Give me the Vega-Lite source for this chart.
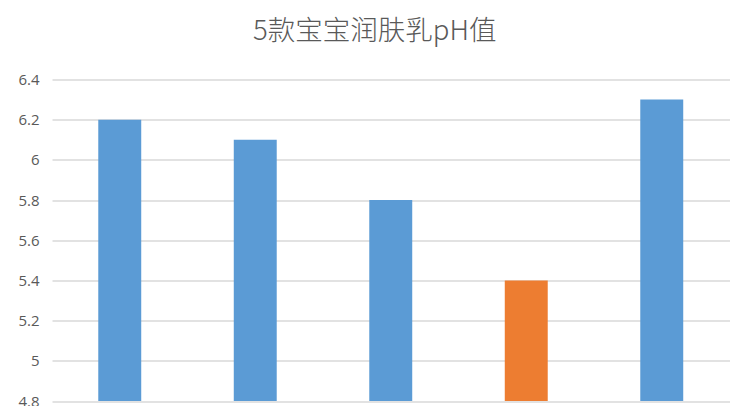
{
  "$schema": "https://vega.github.io/schema/vega-lite/v6.json",
  "autosize": {"type": "none"},
  "width": 677.5,
  "height": 321.5,
  "padding": {"left": 52, "top": 79.5, "right": 22.5, "bottom": 5},
  "background": "white",
  "title": {
    "text": "5款宝宝润肤乳pH值",
    "font": "Noto Sans CJK SC",
    "fontSize": 27.5,
    "fontWeight": 300,
    "color": "#595959",
    "anchor": "middle",
    "frame": "group",
    "dx": -16,
    "offset": 27
  },
  "data": {
    "values": [
      {"product": "产品1", "ph": 6.2, "type": "other"},
      {"product": "产品2", "ph": 6.1, "type": "other"},
      {"product": "产品3", "ph": 5.8, "type": "other"},
      {"product": "产品4", "ph": 5.4, "type": "highlight"},
      {"product": "产品5", "ph": 6.3, "type": "other"}
    ]
  },
  "mark": {"type": "bar", "clip": true},
  "encoding": {
    "x": {
      "field": "product",
      "type": "nominal",
      "sort": null,
      "axis": null,
      "scale": {"paddingInner": 0.683, "paddingOuter": 0.3415}
    },
    "y": {
      "field": "ph",
      "type": "quantitative",
      "scale": {"domain": [4.8, 6.4], "zero": false, "nice": false},
      "axis": {
        "title": null,
        "values": [4.8, 5, 5.2, 5.4, 5.6, 5.8, 6, 6.2, 6.4],
        "labelExpr": "datum.value == 6 ? '6' : datum.value == 5 ? '5' : format(datum.value, '.1f')",
        "domain": false,
        "ticks": false,
        "labelPadding": 13,
        "labelFont": "Open Sans",
        "labelFontSize": 15,
        "labelColor": "#595959",
        "gridColor": "#d9d9d9",
        "gridWidth": 1.5
      }
    },
    "color": {
      "field": "type",
      "type": "nominal",
      "scale": {"domain": ["other", "highlight"], "range": ["#5B9BD5", "#ED7D31"]},
      "legend": null
    }
  },
  "config": {"view": {"stroke": null}}
}
